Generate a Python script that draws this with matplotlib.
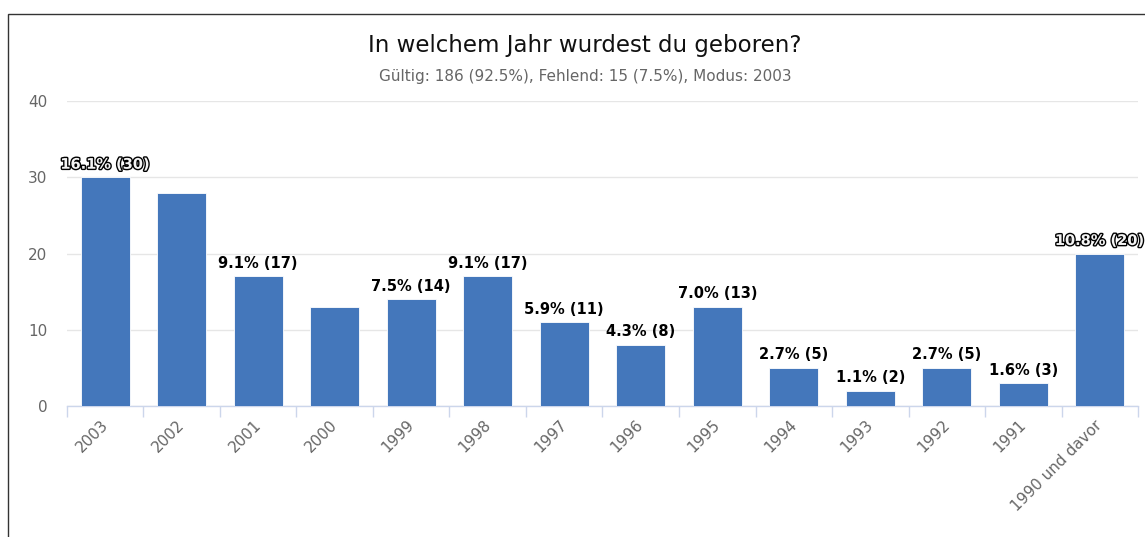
import matplotlib.pyplot as plt
import matplotlib.patheffects as pe
import matplotlib.transforms as mtransforms
from matplotlib.patches import Rectangle
import numpy as np

# data
years = ["2003", "2002", "2001", "2000", "1999", "1998", "1997", "1996",
         "1995", "1994", "1993", "1992", "1991", "1990 und davor"]
counts = [30, 28, 17, 13, 14, 17, 11, 8, 13, 5, 2, 5, 3, 20]
percents = [16.1, 15.1, 9.1, 7.0, 7.5, 9.1, 5.9, 4.3, 7.0, 2.7, 1.1, 2.7, 1.6, 10.8]
# labels hidden in the original (overlapping) and labels drawn with outline
label_shown = [True, False, True, False, True, True, True, True,
               True, True, True, True, True, True]
label_outlined = [True, False, False, False, False, False, False, False,
                  False, False, False, False, False, True]

fig = plt.figure(figsize=(11.45, 5.37), dpi=100)
ax = fig.add_axes([0.0585, 0.2439, 0.9354, 0.568])

x = np.arange(len(years))
ax.bar(x, counts, width=0.64, color="#4477bb", edgecolor="white", linewidth=0.6, zorder=3)

# data labels
for i in range(len(years)):
    if not label_shown[i]:
        continue
    txt = "{:.1f}% ({})".format(percents[i], counts[i])
    if label_outlined[i]:
        t = ax.annotate(txt, (x[i], counts[i]), xytext=(0, 4), textcoords="offset points",
                        ha="center", va="bottom", fontsize=10.5, fontweight="bold",
                        color="#f4f4f4", zorder=5)
        t.set_path_effects([pe.withStroke(linewidth=2.0, foreground="black")])
    else:
        ax.annotate(txt, (x[i], counts[i]), xytext=(0, 4), textcoords="offset points",
                    ha="center", va="bottom", fontsize=10.5, fontweight="bold",
                    color="black", zorder=5)

# axes styling
ax.set_xlim(-0.5, len(years) - 0.5)
ax.set_ylim(0, 40)
ax.set_yticks([0, 10, 20, 30, 40])
ax.grid(axis="y", color="#e6e6e6", linewidth=1, zorder=0)
for s in ["top", "right", "left"]:
    ax.spines[s].set_visible(False)
ax.spines["bottom"].set_color("#ccd6eb")
ax.spines["bottom"].set_linewidth(1)

ax.set_xticks(x)
ax.set_xticklabels(years, rotation=45, ha="right", rotation_mode="anchor")
ax.set_xticks(np.arange(-0.5, len(years), 1), minor=True)
ax.tick_params(axis="x", which="major", length=0, pad=6, labelsize=11, labelcolor="#666666")
ax.tick_params(axis="x", which="minor", length=8, color="#ccd6eb", width=1)
ax.tick_params(axis="y", length=0, pad=14, labelsize=11, labelcolor="#666666")

# shift rotated labels a little to the left / down like the original
shift = mtransforms.ScaledTranslation(-5 / 100, -3 / 100, fig.dpi_scale_trans)
for lab in ax.get_xticklabels():
    lab.set_transform(lab.get_transform() + shift)

# titles
fig.text(0.511, 0.915, "In welchem Jahr wurdest du geboren?", ha="center", va="center",
         fontsize=16.5, color="#111111")
fig.text(0.511, 0.858, "Gültig: 186 (92.5%), Fehlend: 15 (7.5%), Modus: 2003",
         ha="center", va="center", fontsize=11, color="#666666")

# container border (cropped screenshot)
fig.patches.append(Rectangle((8 / 1145, -0.1), 1.5, 1 - 14 / 537 + 0.1,
                             transform=fig.transFigure, fill=False,
                             edgecolor="#333333", linewidth=1))

fig.savefig("out.png", dpi=100)
